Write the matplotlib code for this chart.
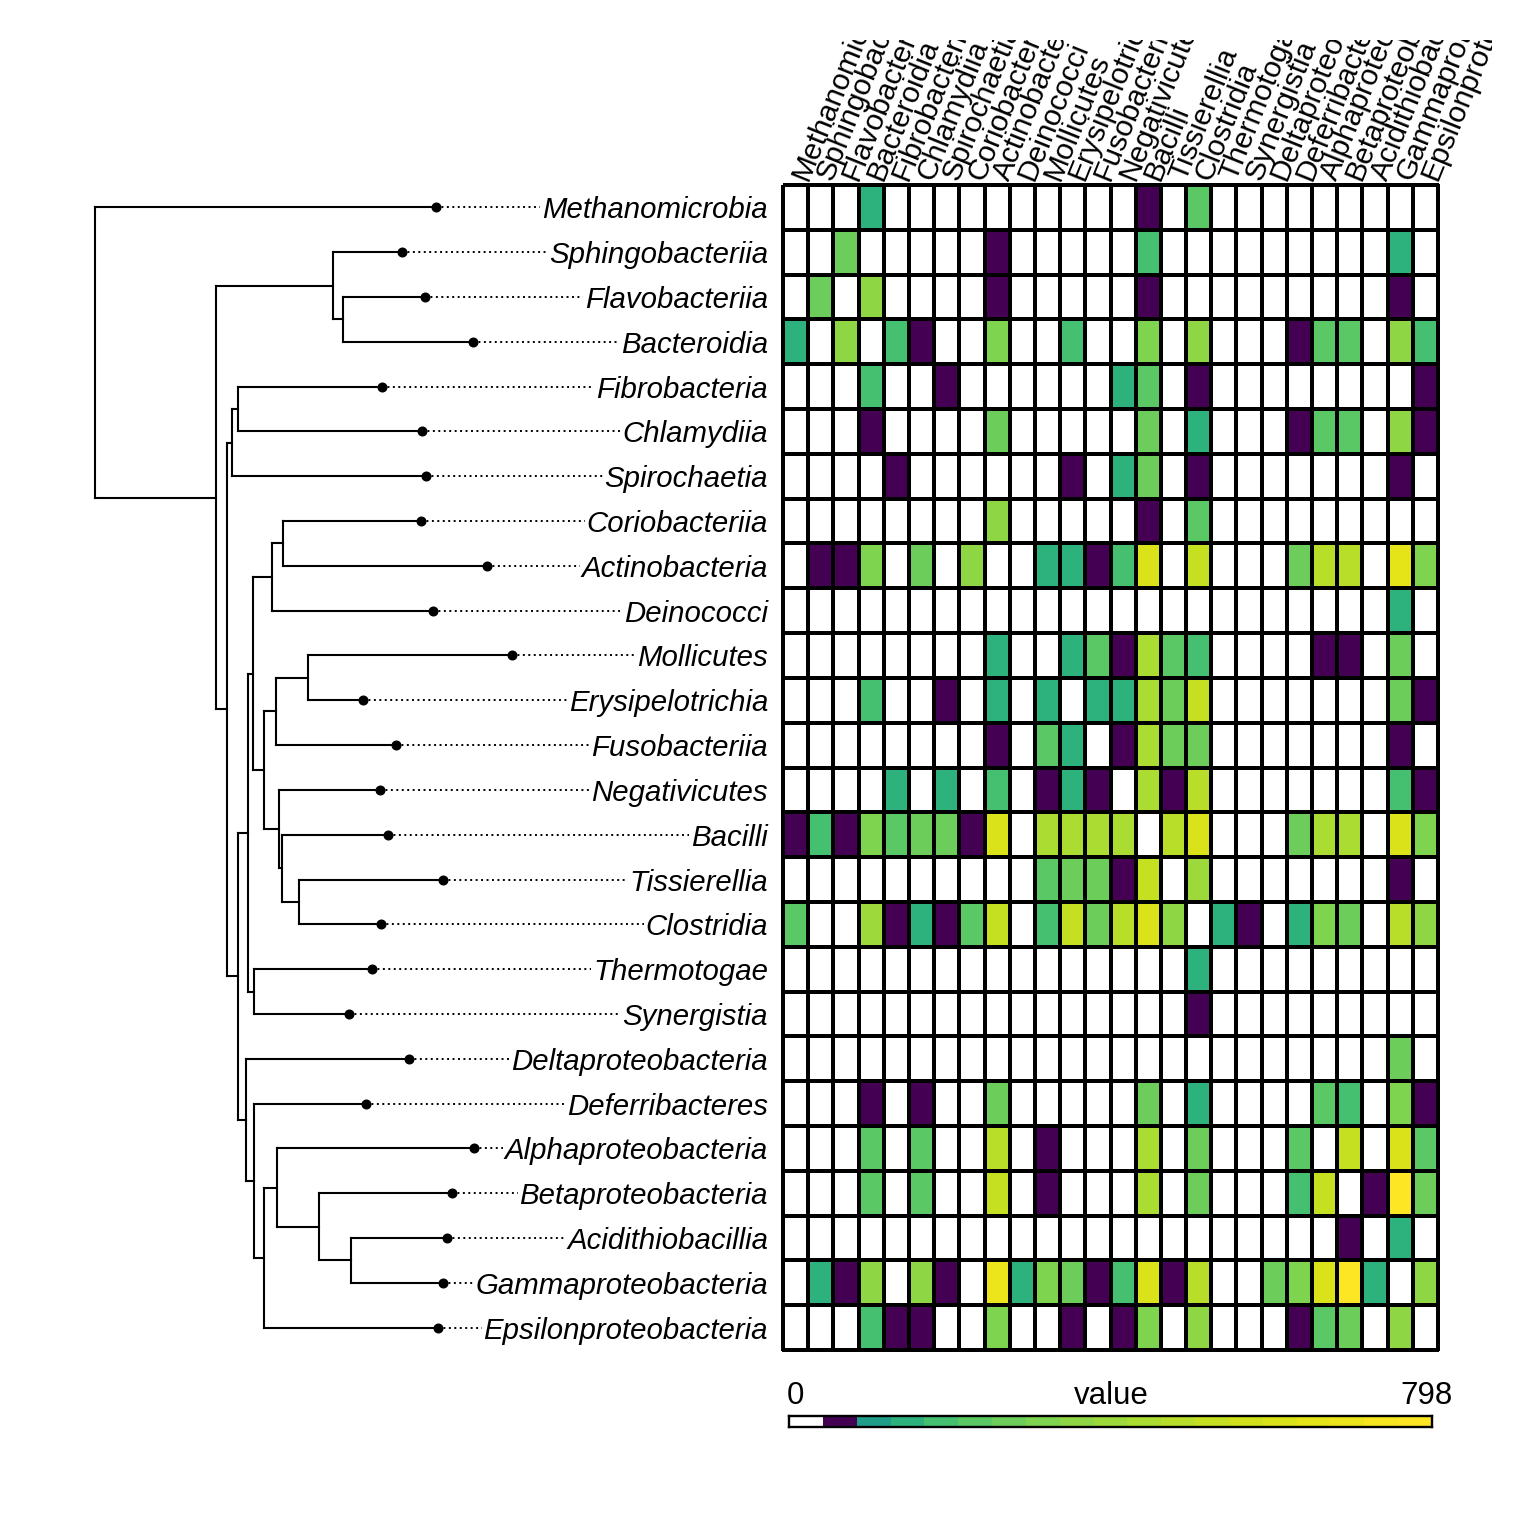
import numpy as np
import matplotlib
matplotlib.use('Agg')
import matplotlib.pyplot as plt
import matplotlib.transforms as mtransforms
from matplotlib.colors import ListedColormap, BoundaryNorm

plt.rcParams['font.family'] = ['Liberation Sans', 'DejaVu Sans']

classes = ['Methanomicrobia', 'Sphingobacteriia', 'Flavobacteriia', 'Bacteroidia',
           'Fibrobacteria', 'Chlamydiia', 'Spirochaetia', 'Coriobacteriia',
           'Actinobacteria', 'Deinococci', 'Mollicutes', 'Erysipelotrichia',
           'Fusobacteriia', 'Negativicutes', 'Bacilli', 'Tissierellia', 'Clostridia',
           'Thermotogae', 'Synergistia', 'Deltaproteobacteria', 'Deferribacteres',
           'Alphaproteobacteria', 'Betaproteobacteria', 'Acidithiobacillia',
           'Gammaproteobacteria', 'Epsilonproteobacteria']

# tree with branch lengths
tree_newick = ("(Methanomicrobia:3.41,((Sphingobacteriia:0.69,(Flavobacteriia:0.823,"
               "Bacteroidia:1.306):0.10):1.167,(((Fibrobacteria:1.44,Chlamydiia:1.84):0.06,"
               "Spirochaetia:1.943):0.05,(((((Coriobacteriia:1.38,Actinobacteria:2.04):0.11,"
               "Deinococci:1.61):0.192,(((Mollicutes:2.04,Erysipelotrichia:0.556):0.317,"
               "Fusobacteriia:1.20):0.117,(Negativicutes:1.01,(Bacilli:1.06,(Tissierellia:1.437,"
               "Clostridia:0.817):0.173):0.027):0.147):0.118):0.048,(Thermotogae:1.174,"
               "Synergistia:0.947):0.066):0.094,(Deltaproteobacteria:1.636,(Deferribacteres:1.114,"
               "((Alphaproteobacteria:1.976,(Betaproteobacteria:1.327,(Acidithiobacillia:0.966,"
               "Gammaproteobacteria:0.92):0.317):0.423):0.124,Epsilonproteobacteria:1.74):0.10)"
               ":0.086):0.074):0.116):0.107):1.21);")

# heatmap values, rows and columns in the order of `classes`
values = [
    [0, 0, 0, 147, 0, 0, 0, 0, 0, 0, 0, 0, 0, 0, 60, 0, 231, 0, 0, 0, 0, 0, 0, 0, 0, 0],
    [0, 0, 273, 0, 0, 0, 0, 0, 60, 0, 0, 0, 0, 0, 189, 0, 0, 0, 0, 0, 0, 0, 0, 0, 147, 0],
    [0, 273, 0, 357, 0, 0, 0, 0, 60, 0, 0, 0, 0, 0, 60, 0, 0, 0, 0, 0, 0, 0, 0, 0, 60, 0],
    [147, 0, 357, 0, 189, 60, 0, 0, 315, 0, 0, 189, 0, 0, 315, 0, 357, 0, 0, 0, 60, 231, 231, 0, 357, 189],
    [0, 0, 0, 189, 0, 0, 60, 0, 0, 0, 0, 0, 0, 147, 231, 0, 60, 0, 0, 0, 0, 0, 0, 0, 0, 60],
    [0, 0, 0, 60, 0, 0, 0, 0, 273, 0, 0, 0, 0, 0, 273, 0, 147, 0, 0, 0, 60, 231, 231, 0, 357, 60],
    [0, 0, 0, 0, 60, 0, 0, 0, 0, 0, 0, 60, 0, 147, 273, 0, 60, 0, 0, 0, 0, 0, 0, 0, 60, 0],
    [0, 0, 0, 0, 0, 0, 0, 0, 357, 0, 0, 0, 0, 0, 60, 0, 231, 0, 0, 0, 0, 0, 0, 0, 0, 0],
    [0, 60, 60, 315, 0, 273, 0, 357, 0, 0, 147, 147, 60, 189, 609, 0, 525, 0, 0, 0, 273, 483, 483, 0, 651, 315],
    [0, 0, 0, 0, 0, 0, 0, 0, 0, 0, 0, 0, 0, 0, 0, 0, 0, 0, 0, 0, 0, 0, 0, 0, 147, 0],
    [0, 0, 0, 0, 0, 0, 0, 0, 147, 0, 0, 147, 231, 60, 441, 231, 189, 0, 0, 0, 0, 60, 60, 0, 273, 0],
    [0, 0, 0, 189, 0, 0, 60, 0, 147, 0, 147, 0, 147, 147, 441, 273, 525, 0, 0, 0, 0, 0, 0, 0, 273, 60],
    [0, 0, 0, 0, 0, 0, 0, 0, 60, 0, 231, 147, 0, 60, 441, 273, 273, 0, 0, 0, 0, 0, 0, 0, 60, 0],
    [0, 0, 0, 0, 147, 0, 147, 0, 189, 0, 60, 147, 60, 0, 441, 60, 483, 0, 0, 0, 0, 0, 0, 0, 189, 60],
    [60, 189, 60, 315, 231, 273, 273, 60, 609, 0, 441, 441, 441, 441, 0, 483, 609, 0, 0, 0, 273, 441, 441, 0, 609, 315],
    [0, 0, 0, 0, 0, 0, 0, 0, 0, 0, 231, 273, 273, 60, 525, 0, 399, 0, 0, 0, 0, 0, 0, 0, 60, 0],
    [231, 0, 0, 399, 60, 147, 60, 231, 525, 0, 189, 525, 273, 483, 609, 357, 0, 147, 60, 0, 147, 315, 273, 0, 483, 357],
    [0, 0, 0, 0, 0, 0, 0, 0, 0, 0, 0, 0, 0, 0, 0, 0, 147, 0, 0, 0, 0, 0, 0, 0, 0, 0],
    [0, 0, 0, 0, 0, 0, 0, 0, 0, 0, 0, 0, 0, 0, 0, 0, 60, 0, 0, 0, 0, 0, 0, 0, 0, 0],
    [0, 0, 0, 0, 0, 0, 0, 0, 0, 0, 0, 0, 0, 0, 0, 0, 0, 0, 0, 0, 0, 0, 0, 0, 273, 0],
    [0, 0, 0, 60, 0, 60, 0, 0, 273, 0, 0, 0, 0, 0, 273, 0, 147, 0, 0, 0, 0, 231, 189, 0, 315, 60],
    [0, 0, 0, 231, 0, 231, 0, 0, 483, 0, 60, 0, 0, 0, 441, 0, 273, 0, 0, 0, 231, 0, 525, 0, 609, 231],
    [0, 0, 0, 231, 0, 231, 0, 0, 525, 0, 60, 0, 0, 0, 441, 0, 273, 0, 0, 0, 189, 525, 0, 60, 798, 273],
    [0, 0, 0, 0, 0, 0, 0, 0, 0, 0, 0, 0, 0, 0, 0, 0, 0, 0, 0, 0, 0, 0, 60, 0, 147, 0],
    [0, 147, 60, 357, 0, 357, 60, 0, 693, 147, 315, 273, 60, 189, 609, 60, 483, 0, 0, 273, 315, 609, 777, 147, 0, 357],
    [0, 0, 0, 189, 60, 60, 0, 0, 315, 0, 0, 60, 0, 60, 315, 0, 357, 0, 0, 0, 60, 231, 273, 0, 357, 0],
]

vmax = 798
bin_colors = ['#FFFFFF', '#440154', '#1F9E89', '#2DB27D', '#45BF70', '#5AC864',
              '#6CCD5A', '#7ED34F', '#8FD644', '#9DD93A', '#ABDC31', '#B8DE29',
              '#C5E021', '#D0E11C', '#DAE319', '#E4E419', '#EDE51B', '#F6E620', '#FDE725']


def parse_newick(s):
    pos = 0

    def node():
        nonlocal pos
        children = []
        if s[pos] == '(':
            pos += 1
            children.append(node())
            while s[pos] == ',':
                pos += 1
                children.append(node())
            pos += 1
        start = pos
        while pos < len(s) and s[pos] not in ',();':
            pos += 1
        name, _, length = s[start:pos].partition(':')
        return {'name': name, 'length': float(length) if length else 0.0,
                'children': children}

    return node()


def layout(nd, depth=0.0):
    nd['x'] = depth + nd['length']
    if nd['children']:
        for c in nd['children']:
            layout(c, nd['x'])
        nd['y'] = np.mean([c['y'] for c in nd['children']])
    else:
        nd['y'] = classes.index(nd['name'])


tree = parse_newick(tree_newick)
layout(tree)

W = 1536
fig = plt.figure(figsize=(W / 100, W / 100), dpi=100)

hm_left, hm_right, hm_top, hm_bottom = 783, 1438, 185, 1350
n = len(classes)

# ---- dendrogram ----
ax_tree = fig.add_axes([0, 1 - hm_bottom / W, hm_left / W, (hm_bottom - hm_top) / W])
ax_tree.set_xlim(-0.95, (hm_left - 95) / 100)
ax_tree.set_ylim(n - 0.5, -0.5)
ax_tree.axis('off')

tips = []


def draw(nd):
    if nd['children']:
        ys = [c['y'] for c in nd['children']]
        ax_tree.plot([nd['x'], nd['x']], [min(ys), max(ys)], color='black', lw=1.5,
                     solid_capstyle='projecting')
        for c in nd['children']:
            ax_tree.plot([nd['x'], c['x']], [c['y'], c['y']], color='black', lw=1.5,
                         solid_capstyle='projecting')
            draw(c)
    else:
        tips.append(nd)


draw(tree)

label_x = (768 - 95) / 100
labels = []
for nd in tips:
    t = ax_tree.text(label_x, nd['y'], nd['name'], ha='right', va='center_baseline',
                     fontsize=21.2, style='italic')
    labels.append((nd, t))
    ax_tree.plot(nd['x'], nd['y'], 'o', color='black', ms=6.2, zorder=5)

# ---- heatmap ----
ax_hm = fig.add_axes([hm_left / W, 1 - hm_bottom / W, (hm_right - hm_left) / W,
                      (hm_bottom - hm_top) / W])
cmap = ListedColormap(bin_colors)
cmap.set_over(bin_colors[-1])
norm = BoundaryNorm(np.linspace(0, vmax, len(bin_colors) + 1), len(bin_colors))
mesh = ax_hm.pcolormesh(np.array(values), cmap=cmap, norm=norm,
                        edgecolors='black', linewidth=1.45)
mesh.set_clip_on(False)
ax_hm.set_xlim(0, n)
ax_hm.set_ylim(n, 0)
ax_hm.axis('off')

clip = mtransforms.Bbox.from_extents(0, 0, 1492, W - 40)
col_trans = mtransforms.offset_copy(ax_hm.transData, fig=fig, y=3, units='dots')
for j, name in enumerate(classes):
    t = fig.text(j + 0.96, 0, name, transform=col_trans, rotation=68,
                 rotation_mode='anchor', ha='left', va='baseline', fontsize=21.5)
    t.set_clip_box(clip)
    t.set_clip_on(True)

# ---- colour bar ----
cb_left, cb_right, cb_top, cb_bottom = 789, 1432, 1416, 1427
ax_cb = fig.add_axes([cb_left / W, 1 - cb_bottom / W, (cb_right - cb_left) / W,
                      (cb_bottom - cb_top) / W])
bounds = np.linspace(0, vmax, len(bin_colors) + 1)
centers = (bounds[:-1] + bounds[1:]) / 2
ax_cb.pcolormesh(bounds, [0, 1], centers[None, :], cmap=cmap, norm=norm)
ax_cb.set_xlim(0, vmax)
ax_cb.set_xticks([])
ax_cb.set_yticks([])
for sp in ax_cb.spines.values():
    sp.set_linewidth(1.7)

fig.text(795 / W, 1 - 1404 / W, '0', ha='center', va='baseline', fontsize=22.5)
fig.text(1111 / W, 1 - 1404 / W, 'value', ha='center', va='baseline', fontsize=22.5)
fig.text(1426 / W, 1 - 1404 / W, str(vmax), ha='center', va='baseline', fontsize=22.5)

# dotted leaders from tips to the labels
fig.canvas.draw()
renderer = fig.canvas.get_renderer()
inv = ax_tree.transData.inverted()
for nd, t in labels:
    bb = t.get_window_extent(renderer)
    x_end = inv.transform((bb.x0 - 2, 0))[0]
    ax_tree.plot([nd['x'], x_end], [nd['y'], nd['y']], color='black', lw=1.4,
                 linestyle=(0, (1, 1.8)))

fig.savefig('out.png', dpi=100, facecolor='white')
